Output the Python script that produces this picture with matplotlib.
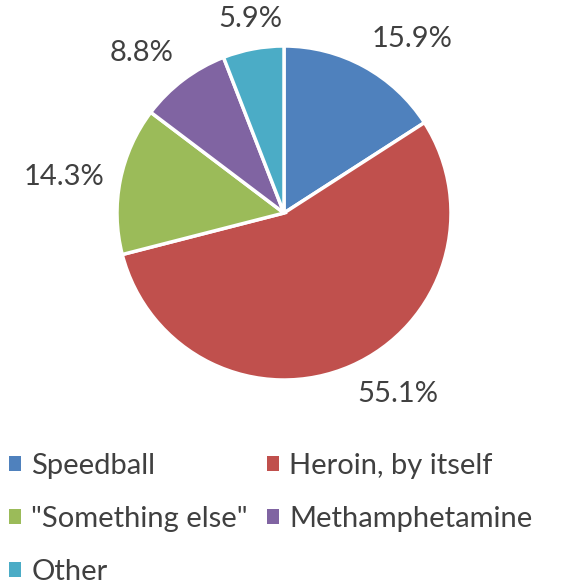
import numpy as np
import matplotlib.pyplot as plt
from matplotlib.patches import Patch

categories = ['Speedball', 'Heroin, by itself', '"Something else"', 'Methamphetamine', 'Other']
shares = [15.9, 55.1, 14.3, 8.8, 5.9]
colors = ['#4F81BD', '#C0504D', '#9BBB59', '#8064A2', '#4BACC6']

plt.rcParams['font.family'] = ['Lato', 'DejaVu Sans']
text_color = '#404040'

fig = plt.figure(figsize=(5.74, 5.87), dpi=100)
W, H = 574, 587
cx, cy, r = 284, 213, 167
ax = fig.add_axes([(cx - r) / W, (H - cy - r) / H, 2 * r / W, 2 * r / H])

wedges, _ = ax.pie(shares, colors=colors, startangle=90, counterclock=False,
                   radius=1, wedgeprops=dict(edgecolor='white', linewidth=2.5))
ax.set_xlim(-1, 1)
ax.set_ylim(-1, 1)
ax.set_aspect('equal')
ax.axis('off')

# data labels just outside each slice, anchored by the side they sit on
for w, v in zip(wedges, shares):
    mid = np.deg2rad((w.theta1 + w.theta2) / 2)
    c, s = np.cos(mid), np.sin(mid)
    d = 1.1
    ha = 'left' if c > 0.3 else ('right' if c < -0.3 else 'center')
    va = 'bottom' if s > 0.3 else ('top' if s < -0.3 else 'center')
    ax.text(d * c, d * s, f'{v:.1f}%', ha=ha, va=va, fontsize=21,
            color=text_color, clip_on=False)

# legend reads row by row: reorder for matplotlib's column filling
order = [0, 2, 4, 1, 3]
handles = [Patch(facecolor=colors[i], edgecolor='none') for i in order]
labels = [categories[i] for i in order]
fig.legend(handles, labels, loc='upper left', bbox_to_anchor=(0.0, 1 - 444 / H),
           ncol=2, frameon=False, fontsize=21, labelcolor=text_color,
           handlelength=0.42, handleheight=0.42, handletextpad=0.35,
           labelspacing=0.93, columnspacing=0.65, borderaxespad=0, borderpad=0.3)

fig.savefig('out.png', dpi=100)
